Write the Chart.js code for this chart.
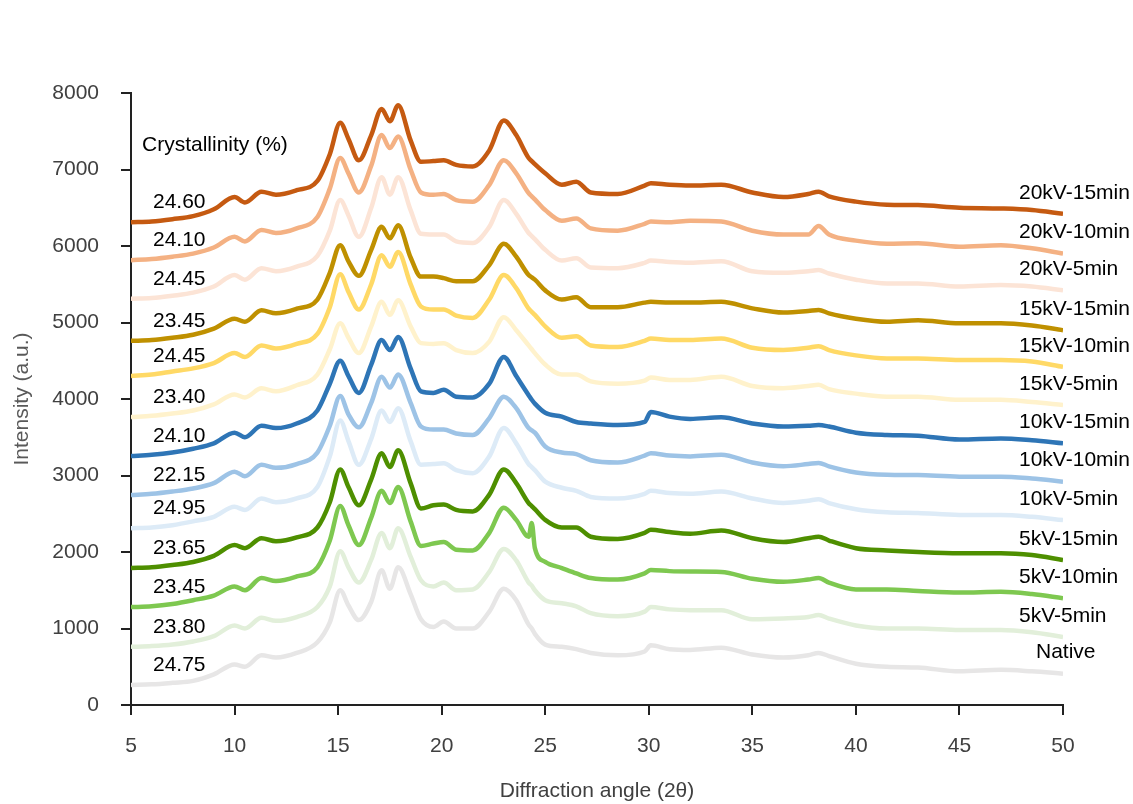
<!DOCTYPE html>
<html><head><meta charset="utf-8">
<script src="https://cdn.jsdelivr.net/npm/chart.js@4.4.1/dist/chart.umd.min.js"></script>
<style>html,body{margin:0;padding:0;background:#fff}#wrap{width:1133px;height:804px;position:relative}</style>
</head><body><div id="wrap"><canvas id="c"></canvas></div>
<script>
// 2θ positions (shared by all patterns)
const angles = [5,6,7,8,9, 10,10.5,11.3,12,13, 14,14.6,15.1,15.5,16, 16.6,17.1,17.5,17.9,18.5, 19,19.6,20.1,20.7,21.5, 22.3,23,23.6,24.2,24.35, 24.5,25,25.8,26.5,27.2, 28.5,29.8,30.1,31,32, 33.5,35,36.5,37.7,38.2, 38.7,40,41.5,43,45, 47,48.5,50];

const native = [261,270,290,315,400, 530,500,650,620,680, 820,1080,1500,1300,1110, 1350,1760,1520,1800,1450, 1120,1020,1090,1000,1000, 1220,1520,1370,1050,1000, 930,790,760,730,680, 650,700,780,730,720, 750,660,620,650,680, 640,540,500,490,440, 460,440,410];
const kv5min5 = [760,770,790,830,900, 1040,1000,1140,1100,1150, 1280,1550,2010,1800,1600, 1900,2250,2050,2310,1940, 1630,1550,1600,1500,1510, 1740,2040,1890,1600,1560, 1500,1370,1330,1290,1200, 1160,1220,1280,1250,1240, 1240,1120,1130,1150,1175, 1130,1040,1000,1000,980, 980,950,890];
const kv5min10 = [1280,1290,1320,1370,1430, 1550,1500,1660,1620,1680, 1800,2150,2600,2350,2090, 2450,2800,2640,2850,2400, 2080,2110,2130,2030,2020, 2250,2580,2420,2200,2380, 2050,1870,1790,1720,1660, 1640,1720,1765,1750,1745, 1740,1650,1610,1640,1660, 1600,1510,1510,1490,1470, 1480,1450,1395];
const kv5min15 = [1790,1800,1830,1870,1950, 2090,2050,2180,2140,2190, 2320,2650,3080,2850,2610, 2950,3290,3110,3330,2900, 2570,2610,2620,2550,2530, 2750,3080,2900,2640,2600, 2560,2420,2320,2320,2200, 2170,2250,2290,2260,2240, 2280,2180,2130,2180,2200, 2150,2050,2020,2000,1985, 1985,1960,1895];
const kv10min5 = [2310,2320,2350,2400,2460, 2590,2550,2700,2650,2700, 2850,3250,3720,3450,3140, 3480,3850,3700,3880,3450, 3140,3150,3160,3070,3030, 3250,3620,3420,3150,3110, 3070,2920,2840,2800,2720, 2700,2760,2800,2770,2760, 2790,2700,2640,2670,2690, 2640,2560,2520,2510,2485, 2485,2460,2418];
const kv10min10 = [2745,2760,2790,2830,2900, 3050,2990,3140,3100,3150, 3300,3650,4040,3800,3630, 3950,4290,4150,4320,3950, 3640,3600,3600,3550,3530, 3750,4030,3880,3620,3590, 3560,3380,3300,3280,3200, 3170,3260,3290,3260,3250, 3270,3170,3120,3150,3165, 3120,3040,3010,3005,2985, 2985,2960,2919];
const kv10min15 = [3255,3270,3300,3350,3420, 3560,3500,3650,3620,3680, 3850,4200,4500,4300,4080, 4450,4770,4640,4810,4400, 4100,4080,4120,4030,4020, 4200,4550,4300,4050,3990, 3940,3820,3770,3700,3680, 3660,3700,3830,3770,3740, 3760,3680,3640,3650,3660, 3640,3560,3530,3520,3470, 3485,3460,3420];
const kv15min5 = [3765,3780,3810,3850,3930, 4060,4020,4140,4100,4180, 4320,4650,4990,4800,4600, 4950,5270,5100,5290,4950, 4730,4720,4730,4640,4600, 4750,5070,4900,4700,4650, 4600,4450,4320,4320,4230, 4200,4240,4280,4250,4250, 4290,4170,4140,4170,4185, 4130,4070,4030,4030,3990, 3990,3960,3920];
const kv15min10 = [4300,4320,4360,4400,4470, 4600,4550,4700,4660,4720, 4850,5200,5630,5400,5170, 5500,5880,5730,5920,5500, 5210,5170,5170,5090,5060, 5300,5620,5450,5180,5140, 5100,4950,4800,4820,4700, 4680,4760,4790,4770,4770, 4790,4670,4640,4670,4690, 4640,4570,4530,4530,4510, 4510,4490,4420];
const kv15min15 = [4760,4770,4800,4840,4920, 5050,5010,5160,5120,5180, 5300,5650,6010,5800,5610, 5950,6250,6100,6270,5850, 5600,5600,5580,5540,5540, 5750,6030,5860,5620,5590, 5560,5420,5300,5330,5200, 5200,5260,5270,5260,5260, 5270,5185,5130,5150,5165, 5120,5050,5010,5030,4990, 4990,4960,4900];
const kv20min5 = [5310,5320,5350,5390,5470, 5620,5560,5710,5670,5730, 5870,6200,6600,6400,6120, 6500,6900,6670,6900,6470, 6160,6150,6150,6060,6040, 6250,6600,6420,6170,6130, 6090,5950,5810,5840,5720, 5710,5780,5810,5790,5780, 5800,5670,5650,5670,5685, 5640,5560,5510,5510,5470, 5490,5470,5420];
const kv20min10 = [5815,5830,5860,5900,5980, 6120,6060,6210,6170,6230, 6380,6750,7150,6950,6700, 7050,7450,7280,7430,7000, 6700,6670,6680,6600,6580, 6800,7120,6950,6690,6650, 6610,6470,6330,6360,6230, 6200,6290,6320,6310,6330, 6320,6200,6150,6150,6260, 6150,6070,6030,6035,5990, 6010,5970,5900];
const kv20min15 = [6310,6320,6350,6390,6480, 6640,6570,6710,6670,6730, 6850,7200,7610,7400,7120, 7450,7790,7630,7840,7380, 7100,7110,7120,7060,7040, 7250,7640,7450,7150,7110, 7070,6950,6800,6840,6700, 6680,6790,6820,6800,6790, 6800,6700,6640,6680,6710, 6650,6580,6540,6535,6500, 6490,6470,6420];

const seriesNames = ['Native','5kV-5min','5kV-10min','5kV-15min','10kV-5min','10kV-10min','10kV-15min','15kV-5min','15kV-10min','15kV-15min','20kV-5min','20kV-10min','20kV-15min'];
const crystallinity = [24.75,23.80,23.45,23.65,24.95,22.15,24.10,23.40,24.45,23.45,24.45,24.10,24.60];
const seriesValues = [native,kv5min5,kv5min10,kv5min15,kv10min5,kv10min10,kv10min15,kv15min5,kv15min10,kv15min15,kv20min5,kv20min10,kv20min15];

const lineColors = ['#E7E6E6','#E2EFDA','#7EC850','#4E8F00','#DDEBF7','#9DC3E6','#2E75B6','#FFF2CC','#FFD966','#BF9000','#FCE4D6','#F4B183','#C55A11'];
const FONT = "'Liberation Sans', Arial, sans-serif";

const datasets = seriesValues.map((vals,i)=>({
  label: seriesNames[i],
  data: angles.map((a,k)=>({x:a, y:vals[k]})),
  borderColor: lineColors[i],
  backgroundColor: lineColors[i],
  borderWidth: 4.5,
  pointRadius: 0,
  fill: false,
  cubicInterpolationMode: 'monotone'
}));

const labelPlugin = {
  id: 'seriesLabels',
  afterDatasetsDraw(chart){
    const {ctx, scales:{x, y}} = chart;
    ctx.save();
    ctx.fillStyle = '#000';
    ctx.font = '21px ' + FONT;
    ctx.textBaseline = 'middle';
    ctx.textAlign = 'left';
    ctx.fillText('Crystallinity (%)', x.left + 11, y.getPixelForValue(7320));
    chart.data.datasets.forEach((ds,i)=>{
      const first = ds.data[0], last = ds.data[ds.data.length-1];
      ctx.fillText(crystallinity[i].toFixed(2), x.left + 22, y.getPixelForValue(first.y) - 20);
      const lx = i === 0 ? x.right - 27 : x.right - 44;
      ctx.fillText(seriesNames[i], lx, y.getPixelForValue(last.y) - 21);
    });
    ctx.restore();
  }
};

new Chart(document.getElementById('c'), {
  type: 'line',
  data: { datasets },
  plugins: [labelPlugin],
  options: {
    responsive: true,
    maintainAspectRatio: false,
    animation: false,
    events: [],
    layout: { padding: { top: 93, right: 70, left: 0, bottom: 0 } },
    plugins: { legend: { display: false }, tooltip: { enabled: false } },
    scales: {
      x: {
        type: 'linear', min: 5, max: 50,
        ticks: { stepSize: 5, color: '#404040', font: { size: 21, family: FONT }, padding: 19, maxRotation: 0, callback: v => String(v) },
        grid: { drawOnChartArea: false, drawTicks: true, tickLength: 10, color: '#222', lineWidth: 2 },
        border: { display: true, color: '#222', width: 2 },
        title: { display: true, text: 'Diffraction angle (2θ)', color: '#404040', font: { size: 21, family: FONT }, padding: { top: 0, bottom: 0 } },
        afterFit(s){ s.height = 99; }
      },
      y: {
        min: 0, max: 8000,
        ticks: { stepSize: 1000, color: '#404040', font: { size: 21, family: FONT }, padding: 22, callback: v => String(v) },
        grid: { drawOnChartArea: false, drawTicks: true, tickLength: 10, color: '#222', lineWidth: 2 },
        border: { display: true, color: '#222', width: 2 },
        title: { display: true, text: 'Intensity (a.u.)', color: '#595959', font: { size: 21, family: FONT }, padding: { top: 10, bottom: 0 } },
        afterFit(s){ s.width = 131; }
      }
    }
  }
});
</script>
</body></html>
